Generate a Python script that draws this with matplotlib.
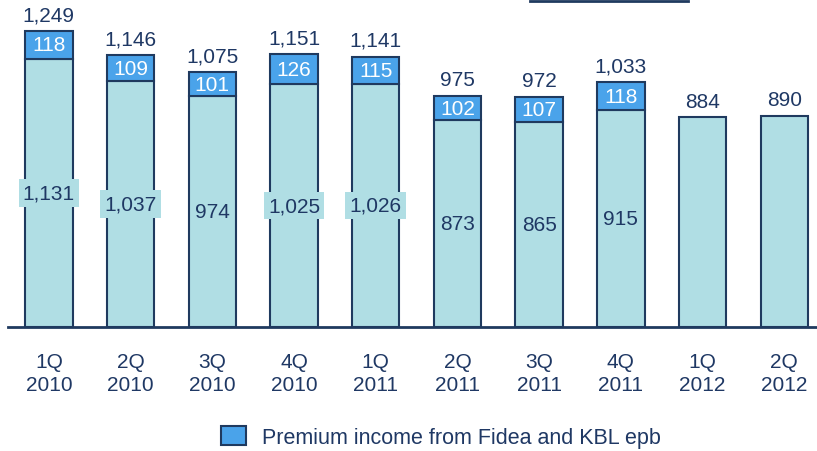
import matplotlib
matplotlib.use("Agg")
import matplotlib.pyplot as plt
from matplotlib.patches import Patch
from matplotlib.lines import Line2D
import numpy as np

# quarterly values
quarters = ["1Q\n2010", "2Q\n2010", "3Q\n2010", "4Q\n2010", "1Q\n2011",
            "2Q\n2011", "3Q\n2011", "4Q\n2011", "1Q\n2012", "2Q\n2012"]
base = [1131, 1037, 974, 1025, 1026, 873, 865, 915, 884, 890]
fidea_kbl = [118, 109, 101, 126, 115, 102, 107, 118, 0, 0]
legend_label = "Premium income from Fidea and KBL epb"

NAVY = "#1F3A5F"
TXT = "#1F3864"
LIGHT = "#B0DEE4"
BLUE = "#4AA3EA"

plt.rcParams['font.family'] = ['Liberation Sans', 'DejaVu Sans']

fig = plt.figure(figsize=(8.17, 4.52), dpi=100)
ax = fig.add_axes([8 / 817, 124 / 452, 809 / 817, 328 / 452])

x = np.arange(len(quarters))
w = 0.58
b1 = ax.bar(x, base, w, color=LIGHT, edgecolor=NAVY, linewidth=1.5)
top_h = [v if v > 0 else np.nan for v in fidea_kbl]
b2 = ax.bar(x, top_h, w, bottom=base, color=BLUE, edgecolor=NAVY, linewidth=1.5)

totals = [b + t for b, t in zip(base, fidea_kbl)]
for i in range(len(x)):
    ax.annotate(f"{totals[i]:,}", (x[i], totals[i]), xytext=(0, 5),
                textcoords="offset points", ha="center", va="bottom",
                fontsize=15, color=TXT)
    if fidea_kbl[i] > 0:
        ax.text(x[i], base[i] + fidea_kbl[i] / 2, f"{fidea_kbl[i]}",
                ha="center", va="center", fontsize=15, color="white")
        ax.text(x[i], base[i] / 2, f"{base[i]:,}", ha="center", va="center",
                fontsize=15, color=TXT,
                bbox=dict(boxstyle="square,pad=0.2", fc=LIGHT, ec="none"))

ax.set_xlim(-0.5, 9.4)
ax.set_ylim(0, 1384)
ax.set_xticks(x)
ax.set_xticklabels(quarters, fontsize=15, color=TXT, linespacing=1.25)
ax.tick_params(axis="x", length=0, pad=18)
ax.set_yticks([])
for s in ["top", "right", "left"]:
    ax.spines[s].set_visible(False)
ax.spines["bottom"].set_color(NAVY)
ax.spines["bottom"].set_linewidth(2)
ax.patch.set_visible(False)

handle = Patch(facecolor=BLUE, edgecolor=NAVY, linewidth=1.5)
fig.legend([handle], [legend_label], loc="center",
           bbox_to_anchor=(441 / 817, 1 - 438 / 452), frameon=False,
           fontsize=15.5, handlelength=1.15, handleheight=0.95,
           handletextpad=0.75, labelcolor=TXT)

# fragment of the cut-off title underline
fig.add_artist(Line2D([530 / 817, 688 / 817], [1 - 1.5 / 452] * 2,
                      color=NAVY, linewidth=2))

fig.savefig("out.png", dpi=100)
